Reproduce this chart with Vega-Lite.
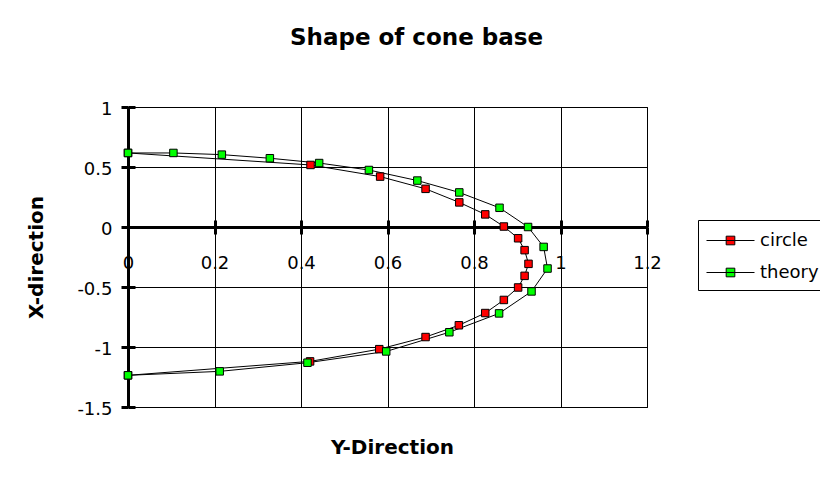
{
  "$schema": "https://vega.github.io/schema/vega-lite/v6.json",
  "width": 519,
  "height": 300,
  "autosize": {"type": "none"},
  "padding": {"left": 128, "top": 107, "right": 173, "bottom": 75},
  "background": "white",
  "title": {
    "text": "Shape of cone base",
    "font": "DejaVu Sans",
    "fontSize": 23,
    "fontWeight": "bold",
    "color": "black",
    "anchor": "middle",
    "frame": "group",
    "dx": 29,
    "baseline": "alphabetic",
    "offset": 32
  },
  "config": {
    "font": "DejaVu Sans",
    "view": {"stroke": "black", "strokeWidth": 1},
    "axis": {
      "labelColor": "black",
      "labelFont": "DejaVu Sans",
      "labelFontSize": 18,
      "labelFlush": false,
      "titleColor": "black",
      "titleFont": "DejaVu Sans",
      "titleFontWeight": "bold",
      "titleFontSize": 20
    }
  },
  "data": {
    "values": [
      {"series": "circle", "idx": 0, "ydir": 0, "xdir": 0.617},
      {"series": "circle", "idx": 1, "ydir": 0.422, "xdir": 0.517},
      {"series": "circle", "idx": 2, "ydir": 0.583, "xdir": 0.42},
      {"series": "circle", "idx": 3, "ydir": 0.688, "xdir": 0.318},
      {"series": "circle", "idx": 4, "ydir": 0.766, "xdir": 0.205},
      {"series": "circle", "idx": 5, "ydir": 0.826, "xdir": 0.105},
      {"series": "circle", "idx": 6, "ydir": 0.869, "xdir": 0.004},
      {"series": "circle", "idx": 7, "ydir": 0.902, "xdir": -0.094},
      {"series": "circle", "idx": 8, "ydir": 0.917, "xdir": -0.193},
      {"series": "circle", "idx": 9, "ydir": 0.926, "xdir": -0.307},
      {"series": "circle", "idx": 10, "ydir": 0.917, "xdir": -0.407},
      {"series": "circle", "idx": 11, "ydir": 0.902, "xdir": -0.504},
      {"series": "circle", "idx": 12, "ydir": 0.869, "xdir": -0.608},
      {"series": "circle", "idx": 13, "ydir": 0.826, "xdir": -0.717},
      {"series": "circle", "idx": 14, "ydir": 0.765, "xdir": -0.819},
      {"series": "circle", "idx": 15, "ydir": 0.688, "xdir": -0.917},
      {"series": "circle", "idx": 16, "ydir": 0.581, "xdir": -1.018},
      {"series": "circle", "idx": 17, "ydir": 0.421, "xdir": -1.12},
      {"series": "circle", "idx": 18, "ydir": 0, "xdir": -1.236},
      {"series": "theory", "idx": 0, "ydir": 0, "xdir": 0.617},
      {"series": "theory", "idx": 1, "ydir": 0.105, "xdir": 0.617},
      {"series": "theory", "idx": 2, "ydir": 0.217, "xdir": 0.603},
      {"series": "theory", "idx": 3, "ydir": 0.328, "xdir": 0.573},
      {"series": "theory", "idx": 4, "ydir": 0.442, "xdir": 0.533},
      {"series": "theory", "idx": 5, "ydir": 0.557, "xdir": 0.475},
      {"series": "theory", "idx": 6, "ydir": 0.669, "xdir": 0.387},
      {"series": "theory", "idx": 7, "ydir": 0.766, "xdir": 0.288},
      {"series": "theory", "idx": 8, "ydir": 0.859, "xdir": 0.16},
      {"series": "theory", "idx": 9, "ydir": 0.925, "xdir": 0},
      {"series": "theory", "idx": 10, "ydir": 0.961, "xdir": -0.166},
      {"series": "theory", "idx": 11, "ydir": 0.97, "xdir": -0.346},
      {"series": "theory", "idx": 12, "ydir": 0.933, "xdir": -0.537},
      {"series": "theory", "idx": 13, "ydir": 0.858, "xdir": -0.72},
      {"series": "theory", "idx": 14, "ydir": 0.743, "xdir": -0.877},
      {"series": "theory", "idx": 15, "ydir": 0.597, "xdir": -1.037},
      {"series": "theory", "idx": 16, "ydir": 0.415, "xdir": -1.131},
      {"series": "theory", "idx": 17, "ydir": 0.212, "xdir": -1.203},
      {"series": "theory", "idx": 18, "ydir": 0, "xdir": -1.236}
    ]
  },
  "resolve": {"axis": {"x": "independent", "y": "independent"}},
  "layer": [
    {
      "mark": {"type": "line", "color": "black", "strokeWidth": 1},
      "encoding": {
        "x": {
          "field": "ydir", "type": "quantitative",
          "scale": {"domain": [0, 1.2], "nice": false, "zero": false},
          "axis": {
            "orient": "bottom",
            "values": [0, 0.2, 0.4, 0.6, 0.8, 1, 1.2],
            "grid": true, "gridColor": "black", "gridOpacity": 1, "gridWidth": 1,
            "domain": false, "ticks": false, "labels": false,
            "title": "Y-Direction",
            "titleX": 264, "titleY": 30, "titleBaseline": "top", "titleAlign": "center"
          }
        },
        "y": {
          "field": "xdir", "type": "quantitative",
          "scale": {"domain": [-1.5, 1], "nice": false, "zero": false},
          "axis": {
            "orient": "left",
            "values": [-1.5, -1, -0.5, 0, 0.5, 1],
            "labelExpr": "toString(datum.value)",
            "grid": true, "gridColor": "black", "gridOpacity": 1, "gridWidth": 1,
            "domain": true, "domainColor": "black", "domainWidth": 3,
            "ticks": true, "tickColor": "black", "tickWidth": 3, "tickSize": 7,
            "labelPadding": 9, "labelOffset": 2,
            "title": "X-direction",
            "titleAngle": -90, "titleX": -92, "titleY": 150,
            "titleAlign": "center", "titleBaseline": "middle"
          }
        },
        "detail": {"field": "series"},
        "order": {"field": "idx", "type": "quantitative"}
      }
    },
    {
      "mark": {"type": "point", "shape": "square", "filled": true, "size": 56, "stroke": "black", "strokeWidth": 1, "opacity": 1},
      "encoding": {
        "x": {
          "field": "ydir", "type": "quantitative",
          "axis": {
            "orient": "bottom", "offset": -180,
            "values": [0, 0.2, 0.4, 0.6, 0.8, 1, 1.2],
            "labelExpr": "toString(datum.value)",
            "grid": false,
            "domain": true, "domainColor": "black", "domainWidth": 3,
            "ticks": true, "tickColor": "black", "tickWidth": 3, "tickSize": 7,
            "labelPadding": 20,
            "title": null
          }
        },
        "y": {
          "field": "xdir", "type": "quantitative",
          "axis": {
            "orient": "right", "offset": -519,
            "values": [-1.5, -1, -0.5, 0, 0.5, 1],
            "grid": false, "domain": false, "labels": false,
            "ticks": true, "tickColor": "black", "tickWidth": 3, "tickSize": 7,
            "title": null
          }
        },
        "color": {
          "field": "series", "type": "nominal",
          "scale": {"domain": ["circle", "theory"], "range": ["#FF0000", "#00FF00"]},
          "legend": {
            "orient": "none", "legendX": 570, "legendY": 113,
            "title": null,
            "strokeColor": "black", "fillColor": "white",
            "padding": 8,
            "symbolType": "M-2,0H2M-0.36,-0.36H0.36V0.36H-0.36Z",
            "symbolSize": 576,
            "symbolOffset": 12,
            "symbolStrokeColor": "black", "symbolStrokeWidth": 1,
            "labelFont": "DejaVu Sans", "labelFontSize": 18, "labelColor": "black",
            "labelOffset": 17,
            "rowPadding": 10
          }
        }
      }
    },
    {
      "mark": {"type": "point", "opacity": 0},
      "encoding": {
        "x": {
          "field": "ydir", "type": "quantitative",
          "axis": {
            "orient": "top", "offset": -120,
            "values": [0, 0.2, 0.4, 0.6, 0.8, 1, 1.2],
            "grid": false, "domain": false, "labels": false,
            "ticks": true, "tickColor": "black", "tickWidth": 3, "tickSize": 7,
            "title": null
          }
        },
        "y": {"field": "xdir", "type": "quantitative", "axis": null}
      }
    }
  ]
}
